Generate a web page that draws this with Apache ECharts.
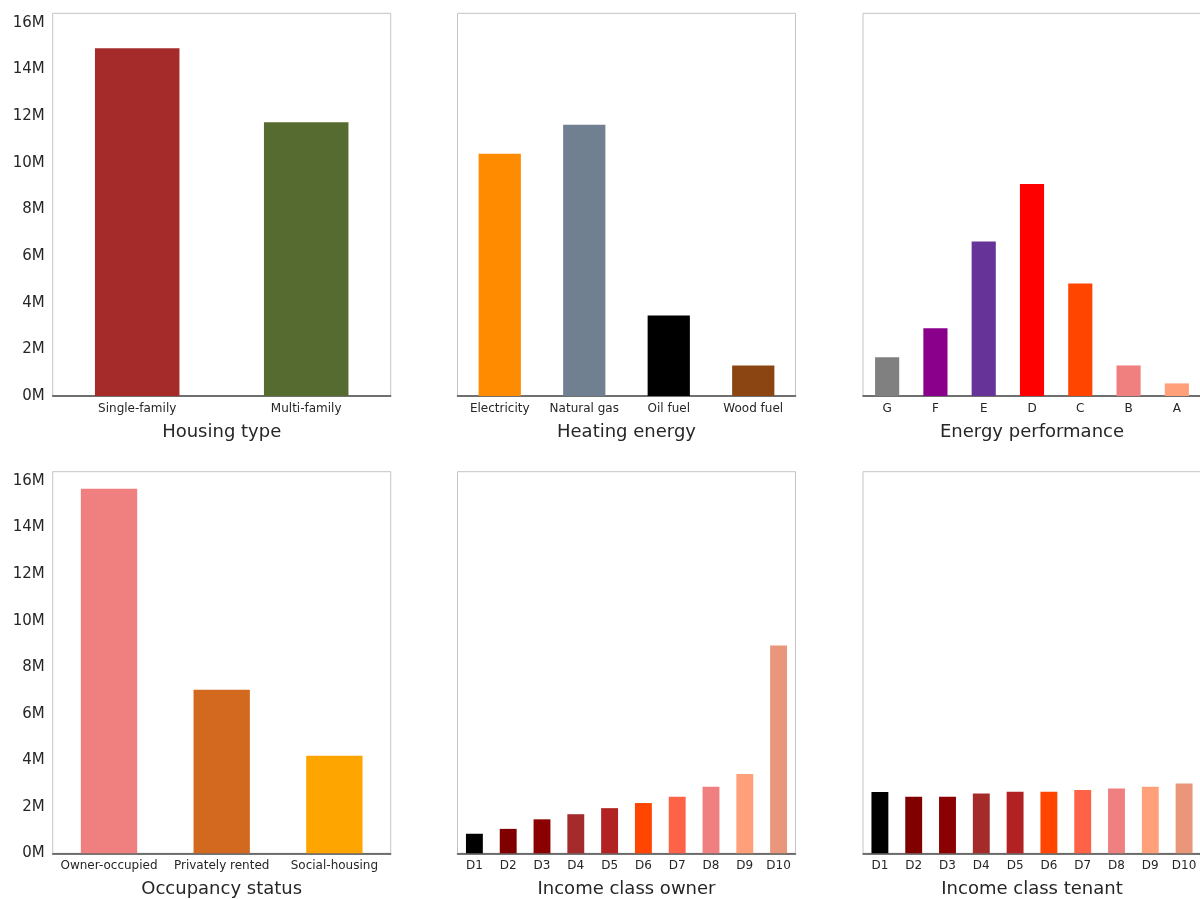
<!DOCTYPE html>
<html>
<head>
<meta charset="utf-8">
<script src="https://cdn.jsdelivr.net/npm/echarts@6/dist/echarts.min.js"></script>
<style>html,body{margin:0;padding:0;background:#fff;}#c{width:1200px;height:899px;}</style>
</head>
<body>
<div id="c"></div>
<script>
// ---- data ----
const housingCats = ['Single-family', 'Multi-family'];
const housingVals = [14.9e6, 11.73e6];

const heatingCats = ['Electricity', 'Natural gas', 'Oil fuel', 'Wood fuel'];
const heatingVals = [10.38e6, 11.62e6, 3.45e6, 1.31e6];

const perfCats = ['G', 'F', 'E', 'D', 'C', 'B', 'A'];
const perfVals = [1.66e6, 2.90e6, 6.62e6, 9.08e6, 4.82e6, 1.31e6, 0.54e6];

const occCats = ['Owner-occupied', 'Privately rented', 'Social-housing'];
const occVals = [15.67e6, 7.03e6, 4.19e6];

const decileCats = ['D1','D2','D3','D4','D5','D6','D7','D8','D9','D10'];
const ownerVals = [0.84e6, 1.05e6, 1.46e6, 1.68e6, 1.94e6, 2.16e6, 2.43e6, 2.86e6, 3.41e6, 8.93e6];
const tenantVals = [2.63e6, 2.43e6, 2.43e6, 2.57e6, 2.64e6, 2.64e6, 2.72e6, 2.78e6, 2.86e6, 3.00e6];

const yTickInterval = 2e6;
const yMax = 16.4e6;

// ---- styles ----
const housingColors = ['#A52A2A', '#556B2F'];
const heatingColors = ['#FF8C00', '#708090', '#000000', '#8B4513'];
const perfColors = ['#808080', '#8B008B', '#663399', '#FF0000', '#FF4500', '#F08080', '#FFA07A'];
const occColors = ['#F08080', '#D2691E', '#FFA500'];
const decileColors = ['#000000', '#800000', '#8B0000', '#A52A2A', '#B22222', '#FF4500', '#FF6347', '#F08080', '#FFA07A', '#E9967A'];

const panels = [
  {title: 'Housing type', cats: housingCats, vals: housingVals, colors: housingColors},
  {title: 'Heating energy', cats: heatingCats, vals: heatingVals, colors: heatingColors},
  {title: 'Energy performance', cats: perfCats, vals: perfVals, colors: perfColors},
  {title: 'Occupancy status', cats: occCats, vals: occVals, colors: occColors},
  {title: 'Income class owner', cats: decileCats, vals: ownerVals, colors: decileColors},
  {title: 'Income class tenant', cats: decileCats, vals: tenantVals, colors: decileColors}
];

const lefts = [52.7, 457.5, 863];
const tops = [13.3, 471.7];
const heights = [382.7, 381.6];
const W = 338;
const FONT = 'DejaVu Sans';
const TXT = '#262626';

const grid = [], xAxis = [], yAxis = [], series = [];
panels.forEach((p, i) => {
  const r = Math.floor(i / 3), c = i % 3;
  grid.push({left: lefts[c], top: tops[r], width: W, height: heights[r], show: true,
    borderColor: '#c4c4c4', borderWidth: 1, backgroundColor: 'transparent',
    containLabel: false, outerBoundsMode: 'none'});
  xAxis.push({type: 'category', gridIndex: i, data: p.cats,
    name: p.title, nameLocation: 'middle', nameGap: 27,
    nameTextStyle: {fontFamily: FONT, fontSize: 18, color: TXT},
    axisLine: {show: true, lineStyle: {color: '#4a4a4a', width: 1.5}},
    axisTick: {show: false},
    axisLabel: {interval: 0, margin: 7, fontFamily: FONT, fontSize: 12, color: TXT},
    splitLine: {show: false}});
  yAxis.push({type: 'value', gridIndex: i, min: 0, max: yMax, interval: yTickInterval,
    axisLine: {show: false}, axisTick: {show: false}, splitLine: {show: false},
    axisLabel: {show: c === 0, showMaxLabel: false, margin: 8, fontFamily: FONT, fontSize: 15, color: TXT,
      formatter: v => (v / 1e6) + 'M'}});
  series.push({type: 'bar', xAxisIndex: i, yAxisIndex: i, barWidth: '50%',
    data: p.vals.map((v, k) => ({value: v, itemStyle: {color: p.colors[k]}}))});
});

const chart = echarts.init(document.getElementById('c'), null, {renderer: 'canvas'});
chart.setOption({animation: false, backgroundColor: '#fff', grid, xAxis, yAxis, series});
</script>
</body>
</html>
